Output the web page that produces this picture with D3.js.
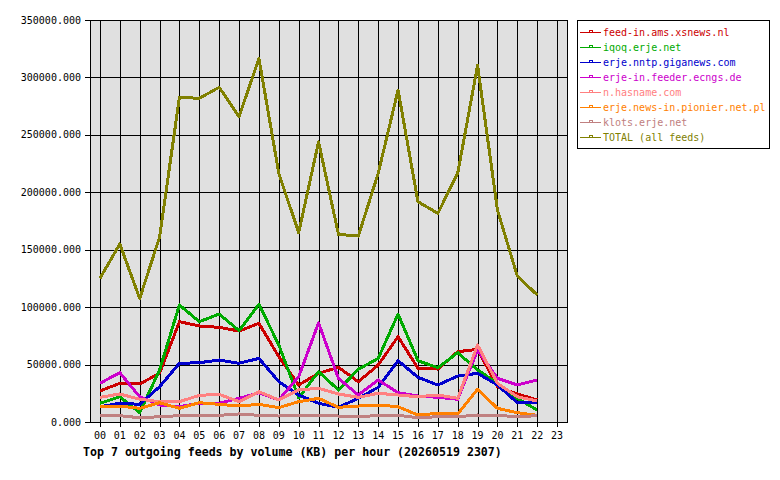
<!DOCTYPE html>
<html>
<head>
<meta charset="utf-8">
<script src="https://cdn.jsdelivr.net/npm/d3@7"></script>
<style>
  body { margin: 0; background: #fff; }
  svg text { font-family: "DejaVu Sans Mono", "Liberation Mono", monospace; }
</style>
</head>
<body>
<div id="plot"></div>
<script>
var hours = ["00","01","02","03","04","05","06","07","08","09","10","11","12","13","14","15","16","17","18","19","20","21","22","23"];

var feedNames = ["feed-in.ams.xsnews.nl", "iqoq.erje.net", "erje.nntp.giganews.com", "erje-in.feeder.ecngs.de",
  "n.hasname.com", "erje.news-in.pionier.net.pl", "klots.erje.net", "TOTAL (all feeds)"];

var feedColors = ["#cc0000", "#00aa00", "#0000cc", "#cc00cc", "#ff8080", "#ff8000", "#c08080", "#808000"];

// values per hour (KB), hours 00..22
var xsnews   = [27000, 33700, 33100, 42400, 87300, 83600, 82400, 79200, 85900, 56900, 32200, 42400, 47600, 35100, 49600, 74300, 46800, 46100, 61200, 63300, 30700, 24400, 19200];
var iqoq     = [16300, 22000, 8100, 45300, 101900, 87300, 94000, 79500, 102500, 67000, 21000, 43800, 27900, 45900, 55400, 94000, 53400, 47300, 60300, 45300, 33700, 20600, 10400];
var giganews = [13300, 16300, 15400, 30700, 51100, 51600, 54000, 51100, 55400, 35100, 23500, 16300, 12800, 20600, 30200, 53400, 38900, 32200, 40000, 42400, 32200, 16800, 17200];
var ecngs    = [33700, 42900, 22000, 14800, 13300, 16300, 16300, 20600, 25500, 19200, 39400, 86400, 38000, 23500, 36600, 25500, 22600, 21500, 19800, 62700, 38000, 32200, 36600];
var hasname  = [21500, 24400, 19800, 17700, 17700, 23200, 24100, 17700, 26400, 19200, 27900, 29300, 24400, 21500, 25000, 23500, 22000, 23500, 20600, 67000, 33700, 22000, 18300];
var pionier  = [13300, 13900, 11900, 16800, 11900, 16800, 15400, 13900, 15400, 12500, 17700, 20600, 12800, 13900, 14800, 13300, 6100, 7500, 7000, 28500, 11900, 8100, 5800];
var klots    = [6100, 5500, 3700, 4600, 5500, 5800, 5800, 7000, 5800, 5200, 5800, 5800, 5200, 4400, 5800, 5800, 3700, 4600, 4600, 6100, 5800, 4600, 5500];
var total    = [125000, 155000, 107500, 161000, 282700, 281800, 291400, 265800, 316500, 216500, 164800, 244000, 163400, 161900, 216500, 289000, 191800, 181700, 216500, 310500, 184600, 127100, 110600];

var yTicks = [0, 50000, 100000, 150000, 200000, 250000, 300000, 350000];

var title = "Top 7 outgoing feeds by volume (KB) per hour (20260519 2307)";

var series = [xsnews, iqoq, giganews, ecngs, hasname, pionier, klots, total];

drawChart();

function drawChart() {
  var width = 780, height = 480;
  var pLeft = 90, pRight = 567, pTop = 20, pBottom = 422;

  var svg = d3.select("#plot").append("svg")
    .attr("width", width)
    .attr("height", height);

  var x = d3.scalePoint().domain(hours).range([pLeft, pRight]).padding(0.5);
  var y = d3.scaleLinear().domain([0, 350000]).range([pBottom, pTop]);

  // plot background
  svg.append("rect")
    .attr("x", pLeft).attr("y", pTop)
    .attr("width", pRight - pLeft).attr("height", pBottom - pTop)
    .attr("fill", "#e0e0e0");

  // vertical grid + bottom ticks
  svg.append("g").selectAll("line")
    .data(hours).enter().append("line")
    .attr("x1", d => Math.round(x(d)) + 0.5).attr("x2", d => Math.round(x(d)) + 0.5)
    .attr("y1", pTop).attr("y2", pBottom + 5)
    .attr("stroke", "#000").attr("stroke-width", 1)
    .attr("shape-rendering", "crispEdges");

  // horizontal grid + left ticks
  svg.append("g").selectAll("line")
    .data(yTicks).enter().append("line")
    .attr("x1", pLeft - 5).attr("x2", pRight)
    .attr("y1", d => Math.round(y(d)) + 0.5).attr("y2", d => Math.round(y(d)) + 0.5)
    .attr("stroke", "#000").attr("stroke-width", 1)
    .attr("shape-rendering", "crispEdges");

  // plot border
  svg.append("rect")
    .attr("x", pLeft + 0.5).attr("y", pTop + 0.5)
    .attr("width", pRight - pLeft).attr("height", pBottom - pTop)
    .attr("fill", "none").attr("stroke", "#000")
    .attr("shape-rendering", "crispEdges");

  // axis labels
  svg.append("g").selectAll("text")
    .data(yTicks).enter().append("text")
    .attr("x", pLeft - 9).attr("y", d => y(d))
    .attr("dy", "0.35em")
    .attr("text-anchor", "end")
    .attr("font-size", "10px")
    .text(d => d3.format(".3f")(d));

  svg.append("g").selectAll("text")
    .data(hours).enter().append("text")
    .attr("x", d => x(d)).attr("y", pBottom + 17)
    .attr("text-anchor", "middle")
    .attr("font-size", "10px")
    .text(d => d);

  // lines
  var line = d3.line()
    .x(function (d, i) { return x(hours[i]); })
    .y(function (d) { return y(d); });

  svg.append("g").selectAll("path")
    .data(series).enter().append("path")
    .attr("d", d => line(d))
    .attr("fill", "none")
    .attr("stroke", (d, i) => feedColors[i])
    .attr("stroke-width", 3)
    .attr("stroke-linejoin", "round")
    .attr("shape-rendering", "crispEdges");

  // title
  svg.append("text")
    .attr("x", 83).attr("y", 456)
    .attr("font-size", "11.6px")
    .attr("font-weight", "bold")
    .text(title);

  // legend
  var legend = svg.append("g");
  legend.append("rect")
    .attr("x", 577.5).attr("y", 20.5)
    .attr("width", 192).attr("height", 128)
    .attr("fill", "#fff").attr("stroke", "#000")
    .attr("shape-rendering", "crispEdges");

  var item = legend.selectAll("g.item")
    .data(feedNames).enter().append("g")
    .attr("class", "item")
    .attr("transform", (d, i) => "translate(0," + (32 + i * 15) + ")");

  item.append("rect")
    .attr("x", 580).attr("y", 0).attr("width", 21).attr("height", 1)
    .attr("fill", (d, i) => feedColors[i])
    .attr("shape-rendering", "crispEdges");
  // little marker box sitting on the sample line
  item.append("rect")
    .attr("x", 589).attr("y", -2).attr("width", 4).attr("height", 3)
    .attr("fill", (d, i) => feedColors[i])
    .attr("shape-rendering", "crispEdges");
  item.append("rect")
    .attr("x", 590).attr("y", -1).attr("width", 2).attr("height", 1)
    .attr("fill", "#fff")
    .attr("shape-rendering", "crispEdges");
  item.append("text")
    .attr("x", 603).attr("y", 0)
    .attr("dy", "0.35em")
    .attr("font-size", "10px")
    .attr("fill", (d, i) => feedColors[i])
    .text(d => d);
}
</script>
</body>
</html>
